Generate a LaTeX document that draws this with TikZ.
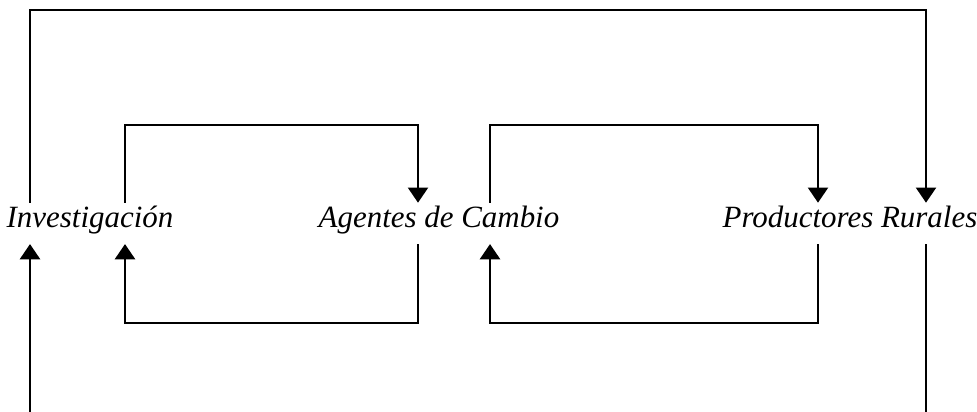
\documentclass[tikz,border=0pt]{standalone}
\usepackage{fontspec}
\setmainfont{Liberation Serif}
\usetikzlibrary{arrows.meta}
\tikzset{
  flow/.style={line width=1.8pt},
  tip/.style={-{Triangle[width=0.5cm,length=0.38cm]}},
  actor/.style={font=\fontsize{22}{26}\selectfont\itshape, inner sep=0pt,
    text height=0.6cm, text depth=0.42cm, anchor=base},
}
\begin{document}
\begin{tikzpicture}[x=0.025cm,y=-0.025cm]
\useasboundingbox (0,0) rectangle (977,412);
%% actors
\node[actor] (inv) at (90,227) {Investigación};
\node[actor] (age) at (439,227) {Agentes de Cambio};
\node[actor] (pro) at (850,227) {Productores Rurales};
%% rows and columns of the lines
\coordinate (top) at (0,10);
\coordinate (hi) at (0,125);
\coordinate (lo) at (0,323);
\coordinate (bot) at (0,412);
\coordinate (x0) at (30,0);
\coordinate (x1) at (125,0);
\coordinate (x2) at (418,0);
\coordinate (x3) at (490,0);
\coordinate (x4) at (818,0);
\coordinate (x5) at (926,0);
%% outer loop
\draw[flow,tip] (inv.north -| x0) |- (top -| x5) -- (pro.north -| x5);
\draw[flow] (pro.south -| x5) -- (bot -| x5);
\draw[flow,tip] (bot -| x0) -- (inv.south -| x0);
%% inner loops
\foreach \src/\dst/\xa/\xb in {inv/age/x1/x2, age/pro/x3/x4}{
  \draw[flow,tip] (\src.north -| \xa) |- (hi -| \xb) -- (\dst.north -| \xb);
  \draw[flow,tip] (\dst.south -| \xb) |- (lo -| \xa) -- (\src.south -| \xa);
}
\end{tikzpicture}
\end{document}
